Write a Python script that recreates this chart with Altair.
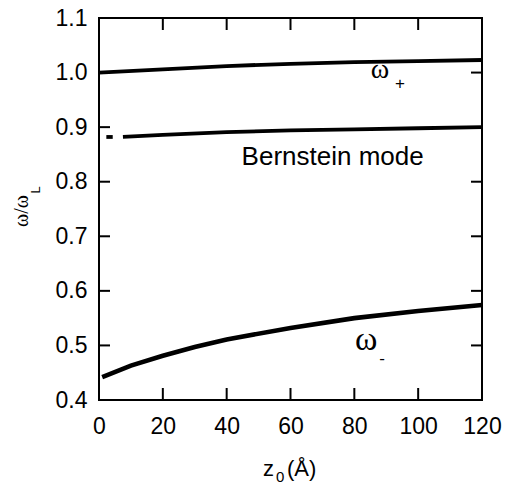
import altair as alt
import pandas as pd

# ---- data ----
z_plus = [0, 20, 40, 60, 80, 100, 120]
w_plus = [1.000, 1.006, 1.012, 1.016, 1.019, 1.021, 1.023]

z_bern_a = [2.3, 4.3]
w_bern_a = [0.882, 0.882]
z_bern_b = [7.5, 20, 40, 60, 80, 100, 120]
w_bern_b = [0.882, 0.886, 0.891, 0.894, 0.896, 0.898, 0.900]

z_minus = [1, 10, 20, 30, 40, 60, 80, 100, 120]
w_minus = [0.442, 0.463, 0.481, 0.497, 0.511, 0.532, 0.550, 0.563, 0.574]

x_ticks = [0, 20, 40, 60, 80, 100, 120]
y_ticks = [0.4, 0.5, 0.6, 0.7, 0.8, 0.9, 1.0, 1.1]
x_inner = [20, 40, 60, 80, 100]
y_inner = [0.5, 0.6, 0.7, 0.8, 0.9, 1.0]

W, H = 383, 382
X0, X1 = x_ticks[0], x_ticks[-1]
Y0, Y1 = y_ticks[0], y_ticks[-1]
TY = 12 * (Y1 - Y0) / H   # inward tick length (12 px) in data units
TX = 11 * (X1 - X0) / W   # inward tick length (11 px) in data units

# curves and inward ticks share one table (one line layer, one segment id per piece)
rows = []
for seg, zs, ws, sw in [("plus", z_plus, w_plus, 3.8), ("bern_a", z_bern_a, w_bern_a, 3.8),
                        ("bern_b", z_bern_b, w_bern_b, 3.8), ("minus", z_minus, w_minus, 4.6)]:
    for z, w in zip(zs, ws):
        rows.append({"z": z, "w": w, "seg": seg, "sw": sw})
for v in x_inner:
    rows += [{"z": v, "w": Y0, "seg": f"tb{v}", "sw": 2}, {"z": v, "w": Y0 + TY, "seg": f"tb{v}", "sw": 2}]
    rows += [{"z": v, "w": Y1, "seg": f"tt{v}", "sw": 2}, {"z": v, "w": Y1 - TY, "seg": f"tt{v}", "sw": 2}]
for v in y_inner:
    rows += [{"z": X0, "w": v, "seg": f"tl{v}", "sw": 2}, {"z": X0 + TX, "w": v, "seg": f"tl{v}", "sw": 2}]
    rows += [{"z": X1, "w": v, "seg": f"tr{v}", "sw": 2}, {"z": X1 - TX, "w": v, "seg": f"tr{v}", "sw": 2}]
df = pd.DataFrame(rows)

X = alt.X("z:Q", title=None, scale=alt.Scale(domain=[X0, X1], nice=False, zero=False))
Y = alt.Y("w:Q", title=None, scale=alt.Scale(domain=[Y0, Y1], nice=False, zero=False))

lines = alt.Chart(df).mark_line(color="black", strokeCap="butt").encode(
    x=X, y=Y, detail="seg:N", order="w:Q",
    strokeWidth=alt.StrokeWidth("sw:Q", scale=None, legend=None))

# ---- annotations (data coordinates) ----
def label(z, w, t, font, size):
    return alt.Chart(pd.DataFrame({"z": [z], "w": [w], "t": [t]})).mark_text(
        font=font, fontSize=size, baseline="alphabetic", align="center", color="black"
    ).encode(x=X, y=Y, text="t:N")

om_plus = label(88.0, 0.990, "ω", "Liberation Serif", 28)
om_minus = label(83.7, 0.4916, "ω", "Liberation Serif", 34)
sub_plus = label(94.3, 0.969, "+", "Liberation Sans", 17)
sub_minus = label(88.7, 0.466, "-", "Liberation Sans", 17)
bern = label(73.2, 0.8306, "Bernstein mode", "Liberation Sans", 26)

# ---- axis titles with subscripts (pixel placement outside the plot) ----
def ptext(t, px, py, font, size, angle=0, align="left", baseline="alphabetic"):
    kw = dict(font=font, fontSize=size, align=align, baseline=baseline, color="black")
    if angle:
        kw["angle"] = angle
    return alt.Chart(pd.DataFrame({"t": [t]})).mark_text(**kw).encode(
        x=alt.value(px), y=alt.value(py), text="t:N")

xt_z = ptext("z", 164, 458, "Liberation Sans", 22)
xt_0 = ptext("0", 177, 464, "Liberation Sans", 15)
xt_a = ptext("(Å)", 188, 458, "Liberation Sans", 22)
yt_main = ptext("ω/ω", -77, 193, "Liberation Serif", 20, angle=270, align="center", baseline="middle")
yt_sub = ptext("L", -63, 172, "Liberation Sans", 13, angle=270, align="center", baseline="middle")

chart = alt.layer(lines, om_plus, om_minus, sub_plus, sub_minus, bern,
                  xt_z, xt_0, xt_a, yt_main, yt_sub).properties(
    width=W, height=H,
    padding={"left": 91, "top": 10, "right": 24, "bottom": 84},
    autosize=alt.AutoSizeParams(type="none"),
).configure_view(stroke="black", strokeWidth=2).configure_axis(
    grid=False, ticks=False, domain=False, labelFont="Liberation Sans",
    labelFontSize=23, labelColor="black"
).configure_axisX(
    tickCount=len(x_ticks) - 1, labelPadding=15, labelFlush=False, format="d"
).configure_axisY(
    tickCount=len(y_ticks) - 1, labelPadding=12, format=".1f"
)

chart.save("out.html", embed_options={"renderer": "svg", "actions": False})
